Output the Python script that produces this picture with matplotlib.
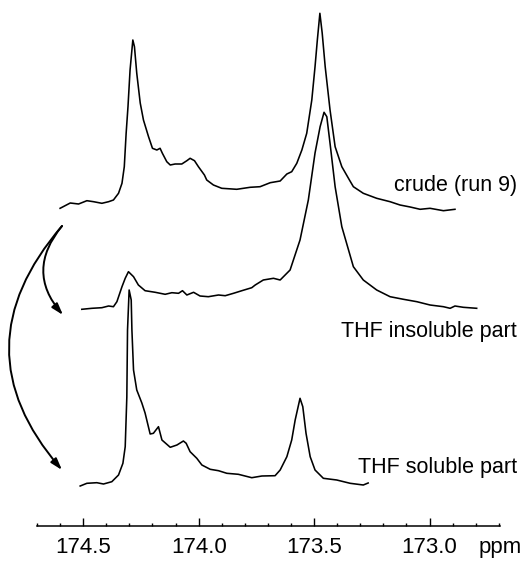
import numpy as np
import matplotlib
matplotlib.use("Agg")
import matplotlib.pyplot as plt

plt.rcParams['font.family'] = ['Liberation Sans', 'DejaVu Sans']

# 13C NMR traces: shift (ppm) and intensity (arb., px above own baseline)
crude_ppm = [174.600, 174.556, 174.520, 174.484, 174.455, 174.419, 174.390, 174.369, 174.347,
             174.332, 174.322, 174.314, 174.306, 174.297, 174.285, 174.278, 174.268, 174.253,
             174.239, 174.217, 174.200, 174.181, 174.167, 174.157, 174.138, 174.123, 174.102,
             174.073, 174.051, 174.037, 174.018, 174.001, 173.975, 173.965, 173.936, 173.900,
             173.835, 173.777, 173.734, 173.690, 173.647, 173.618, 173.597, 173.575, 173.553,
             173.532, 173.510, 173.496, 173.486, 173.475, 173.465, 173.452, 173.431, 173.409,
             173.380, 173.347, 173.330, 173.287, 173.229, 173.171, 173.128, 173.084, 173.041,
             172.998, 172.940, 172.890]
crude_int = [1.7, 7, 6, 9.3, 8.3, 6.7, 8.3, 10, 16.7,
             26.7, 43.3, 76.7, 103.3, 140, 170, 163.3, 136.7, 107,
             90, 73.3, 61.7, 60, 61.7, 56.7, 48.3, 45, 46,
             46, 49.3, 51.7, 49.3, 43.3, 35, 30, 25, 21.7,
             20.7, 22.7, 23.3, 27.3, 29, 36, 38.3, 46.7, 60,
             76.7, 110, 143.3, 170, 196.7, 177, 143.3, 100, 63.3,
             43.3, 30, 23.3, 16.7, 11.7, 8.3, 5, 3, 0.7,
             1.7, -0.7, 0.7]

insol_ppm = [174.506, 174.462, 174.419, 174.390, 174.369, 174.354, 174.332, 174.318, 174.304,
             174.282, 174.261, 174.232, 174.188, 174.145, 174.116, 174.087, 174.070, 174.051,
             174.022, 173.994, 173.958, 173.914, 173.885, 173.849, 173.813, 173.770, 173.755,
             173.720, 173.676, 173.647, 173.604, 173.561, 173.525, 173.496, 173.474, 173.457,
             173.445, 173.431, 173.409, 173.380, 173.330, 173.287, 173.229, 173.171, 173.113,
             173.055, 172.998, 172.940, 172.911, 172.890, 172.854, 172.796]
insol_int = [0.7, 1.7, 2.3, 4, 3.3, 8.3, 23.3, 31.7, 38.3,
             33.3, 25, 19.3, 17.7, 15.7, 17.3, 16.7, 19.3, 15,
             17.7, 14, 13.3, 15, 14.3, 16.7, 19.3, 22.3, 25,
             30, 31.7, 30, 40, 70, 110, 157, 183.3, 197.7,
             193.3, 166.7, 123.3, 83.3, 43.3, 30, 20, 13.3, 10.7,
             8.3, 5, 3.3, 1.7, 4, 2.7, 1.7]

sol_ppm = [174.513, 174.484, 174.441, 174.412, 174.376, 174.347, 174.328, 174.318, 174.311,
           174.308, 174.301, 174.292, 174.289, 174.282, 174.268, 174.246, 174.232, 174.210,
           174.196, 174.174, 174.159, 174.123, 174.094, 174.066, 174.054, 174.037, 174.008,
           173.986, 173.950, 173.914, 173.878, 173.828, 173.770, 173.726, 173.669, 173.647,
           173.618, 173.597, 173.582, 173.561, 173.549, 173.535, 173.517, 173.496, 173.460,
           173.402, 173.344, 173.287, 173.266]
sol_int = [1, 3.7, 4.3, 3, 5.3, 12, 23.7, 40.3, 90,
           157, 197, 187, 157, 117, 97, 84, 74, 53,
           53.7, 60.3, 47, 39.7, 42, 46, 43.7, 35.3, 28.7,
           22, 17.7, 16.3, 13.7, 12.7, 9.3, 11, 11.3, 17,
           30.3, 47, 67, 88.7, 80.3, 53.7, 30.3, 17, 8.7,
           7, 3.7, 2, 4]

labels = ["crude (run 9)", "THF insoluble part", "THF soluble part"]
major_ticks = [174.5, 174.0, 173.5, 173.0]

fig = plt.figure(figsize=(5.22, 5.64), dpi=100)
ax = fig.add_axes([37 / 522, 38 / 564, 463 / 522, 526 / 564])
ax.set_xlim(174.70, 172.695)
ax.set_ylim(0, 526)

# stack the three traces
offsets = [316, 216, 39]
for p, y, off in zip([crude_ppm, insol_ppm, sol_ppm], [crude_int, insol_int, sol_int], offsets):
    ax.plot(p, np.array(y) + off, color='black', lw=1.15)

# labels at right
label_y = [564 - 185, 564 - 332, 564 - 467]
for txt, yy in zip(labels, label_y):
    fig.text(517 / 522, yy / 564, txt, ha='right', va='center', fontsize=15.5)

# axis
for s in ['left', 'top', 'right']:
    ax.spines[s].set_visible(False)
ax.spines['bottom'].set_linewidth(1.1)
ax.set_yticks([])
ax.set_xticks(major_ticks)
ax.set_xticklabels([f"{t:.1f}" for t in major_ticks], fontsize=16)
ax.set_xticks(np.arange(172.7, 174.75, 0.1), minor=True)
ax.tick_params(axis='x', which='major', direction='in', length=5.5, width=1.0, pad=8)
ax.tick_params(axis='x', which='minor', direction='in', length=2.5, width=1.0)
fig.text(500 / 522, (564 - 547) / 564, "ppm", ha='center', va='center', fontsize=16)

# curved arrows on the left
arr = dict(arrowstyle='-|>,head_length=0.7,head_width=0.22', color='black', lw=1.4,
           shrinkA=0, shrinkB=0)
ax.annotate("", xy=(63, 249), xycoords='figure pixels', xytext=(62, 338),
            textcoords='figure pixels',
            arrowprops=dict(connectionstyle='arc3,rad=0.42', **arr))
ax.annotate("", xy=(62, 94), xycoords='figure pixels', xytext=(62, 338),
            textcoords='figure pixels',
            arrowprops=dict(connectionstyle='arc3,rad=0.43', **arr))

fig.savefig("out.png", dpi=100)
